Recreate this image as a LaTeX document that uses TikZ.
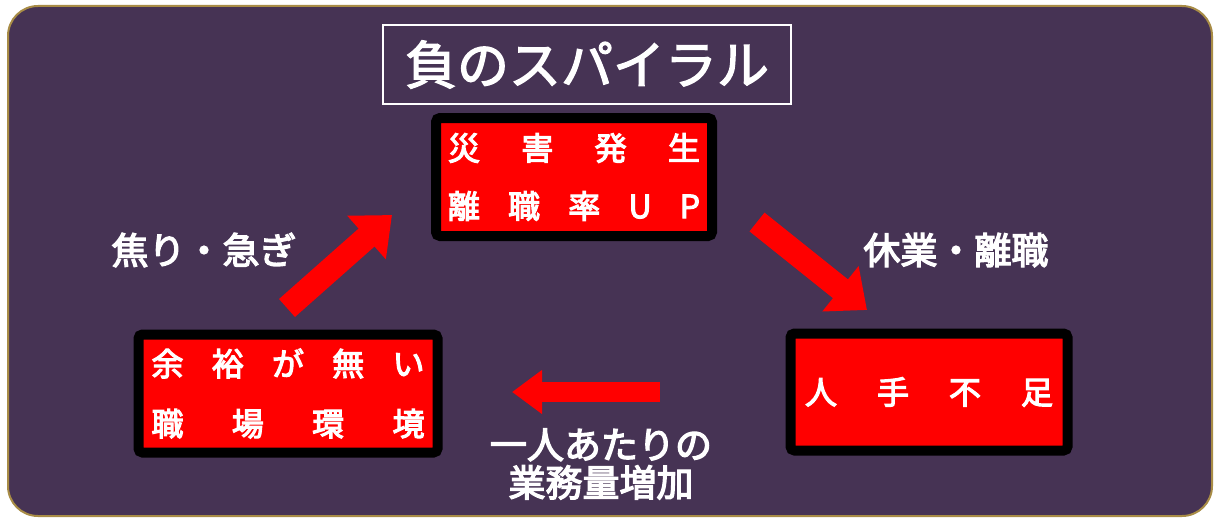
\documentclass[tikz,border=0pt]{standalone}
\usepackage{fontspec}
\newfontfamily\cjk{Noto Sans CJK JP}
\newfontfamily\cjkm{Noto Sans CJK JP}[FakeBold=3.5]
\newfontfamily\cjkt{Noto Sans CJK JP}[FakeBold=2.5]
\usetikzlibrary{arrows.meta}
\definecolor{bgpurple}{RGB}{70,51,84}
\definecolor{rimgold}{RGB}{168,140,70}
\tikzset{
  redbox/.style={draw=black, line width=10pt, fill=red, rounded corners=4pt, inner sep=0pt, text=white,
     align=center, font=\cjkm\fontsize{32}{58}\selectfont},
  lbl/.style={text=white, align=center, inner sep=0pt, font=\cjkm\fontsize{37}{38}\selectfont},
  bigarrow/.style={draw=red, line width=24pt, -{Triangle[length=34pt,width=56pt]}},
  flatarrow/.style={draw=red, line width=20pt, -{Triangle[length=30pt,width=42pt]}}
}
\begin{document}
\begin{tikzpicture}[x=1pt,y=-1pt]
\useasboundingbox (0,0) rectangle (1218,519);
\fill[white] (0,0) rectangle (1218,519);
\draw[rimgold, line width=2pt, fill=bgpurple, rounded corners=30pt] (8,6) rectangle (1212,516);

\node[draw=white, line width=2pt, minimum width=408pt, minimum height=79pt, inner sep=0pt,
      text=white, font=\cjkt\fontsize{52}{52}\selectfont] (title) at (587,64.5) {負のスパイラル};

\node[redbox, minimum width=276pt, minimum height=118pt] (top) at (574,177)
  {\makebox[252pt][s]{災\hfill 害\hfill 発\hfill 生}\\\makebox[252pt][s]{離\hfill 職\hfill 率\hfill U\hfill P}};
\node[redbox, minimum width=299pt, minimum height=118pt, font=\cjkm\fontsize{32}{60}\selectfont] (left) at (288,393.5)
  {\makebox[273pt][s]{余\hfill 裕\hfill が\hfill 無\hfill い}\\\makebox[273pt][s]{職\hfill 場\hfill 環\hfill 境}};
\node[redbox, minimum width=277pt, minimum height=117pt] (right) at (929,392)
  {\makebox[248pt][s]{人\hfill 手\hfill 不\hfill 足}};

\node[lbl] (l1) at (204,250) {焦り・急ぎ};
\node[lbl] (l2) at (956,250) {休業・離職};
\node[lbl] (l3) at (601,464) {一人あたりの\\業務量増加};

\coordinate (a1s) at (287,308);
\coordinate (a1e) at (392,215);
\coordinate (a2s) at (757,222);
\coordinate (a2e) at (867,310);
\coordinate (a3s) at (660,392);
\coordinate (a3e) at (512,392);
\draw[bigarrow] (a1s) -- (a1e);
\draw[bigarrow] (a2s) -- (a2e);
\draw[flatarrow] (a3s) -- (a3e);
\end{tikzpicture}
\end{document}
